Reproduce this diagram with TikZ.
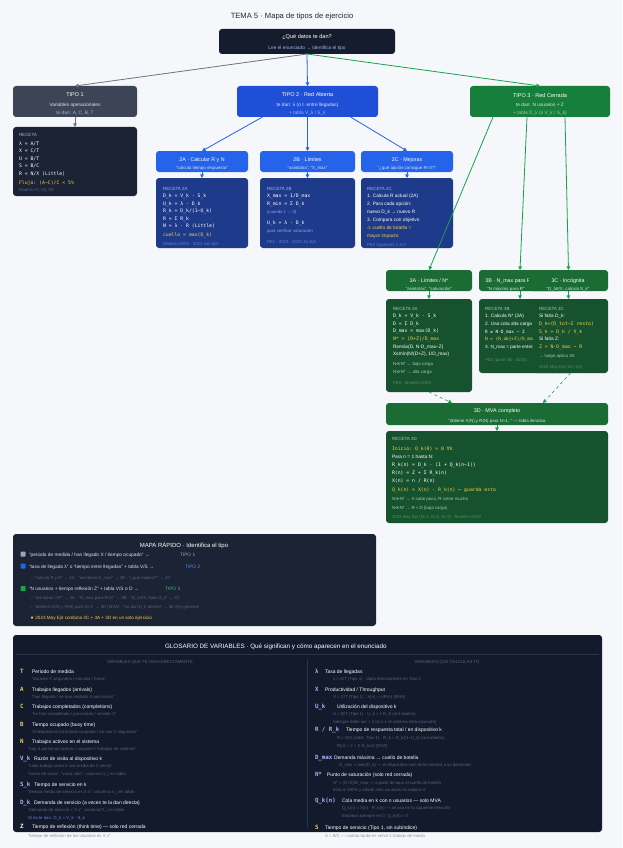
\documentclass[tikz,border=0pt]{standalone}
\usepackage{fontspec}
\setmainfont{Liberation Sans}
\setmonofont{DejaVu Sans Mono}
\newfontfamily\djv{DejaVu Sans}
\usetikzlibrary{arrows.meta,calc}
\definecolor{bgc}{HTML}{F5F7FA}
\definecolor{titc}{HTML}{1F2937}
\definecolor{navyA}{HTML}{151C2E}
\definecolor{navyB}{HTML}{1B2334}
\definecolor{navyG}{HTML}{121A2B}
\definecolor{t1c}{HTML}{3D4455}
\definecolor{t2c}{HTML}{1F4FD6}
\definecolor{h2c}{HTML}{2563EB}
\definecolor{r2c}{HTML}{1E3A8A}
\definecolor{t3c}{HTML}{177F3C}
\definecolor{h3c}{HTML}{1A6B34}
\definecolor{r3c}{HTML}{17522E}
\definecolor{ylw}{HTML}{F2CF4A}
\definecolor{lblue}{HTML}{9DB8F0}
\definecolor{fadeN}{HTML}{56657F}
\definecolor{fadeB}{HTML}{6580CC}
\definecolor{fadeL}{HTML}{8FA6E0}
\definecolor{fadeG}{HTML}{4F8F62}
\definecolor{lgreen}{HTML}{A7C9B2}
\definecolor{lav}{HTML}{A5B4FC}
\definecolor{soft}{HTML}{DCE3EE}
\definecolor{arrG}{HTML}{6B7280}
\definecolor{arrB}{HTML}{2563EB}
\definecolor{arrV}{HTML}{16A34A}
\definecolor{lab1}{HTML}{9AA5BA}
\definecolor{lab2}{HTML}{4F8DF7}
\definecolor{lab3}{HTML}{34C46A}
\definecolor{sepc}{HTML}{2A3449}
\definecolor{outg}{HTML}{8A94A6}
\newcommand\fs[1]{\fontsize{#1}{#1}\selectfont}
\newcommand\symf{\fs{5.8}\ttfamily\bfseries}
\newcounter{tn}
\newcommand\tx[4][]{\stepcounter{tn}\node[tx,#1] (L\thetn) at (#2,#3) {#4};}
\newcommand\bx[6]{\node[bxs, fill=#6, minimum width=#4pt-#2pt, minimum height=#5pt-#3pt] (#1) at ({(#2+#4)/2},{(#3+#5)/2}) {};}
\tikzset{
  bxs/.style={rounded corners=3pt, inner sep=0pt, outer sep=0pt, draw=none},
  tx/.style={anchor=base west, inner sep=0pt, outer sep=0pt, text=white, font=\fs{4.8}},
  arr/.style={-{Triangle[length=3.6pt,width=3.6pt]}, line width=0.8pt},
}
\begin{document}
\begin{tikzpicture}[x=1pt,y=-1pt]
\fill[bgc] (0,0) rectangle (622,848);
\useasboundingbox (0,0) rectangle (622,848);
\tx[anchor=base, text=titc, font=\fs{7.6}]{292}{18.5}{TEMA 5 · Mapa de tipos de ejercicio}

% question box
\bx{q}{219}{29}{395}{54}{navyA}
\tx[anchor=base, font=\fs{5.6}]{307}{39}{¿Qué datos te dan?}
\tx[anchor=base, text=lblue]{307}{49.5}{Lee el enunciado → identifica el tipo}

% TIPO 1
\bx{tipo1}{13}{86}{137}{117}{t1c}
\tx[anchor=base, font=\fs{5.5}]{75}{97}{TIPO 1}
\tx[anchor=base, text=soft]{75}{107}{Variables operacionales}
\tx[anchor=base, text=lblue]{75}{115}{te dan: A, C, B, T}
\bx{r1}{13}{127}{137}{196}{navyB}
\tx[text=lblue, font=\fs{4.5}]{19}{136}{RECETA}
\tx[font=\fs{4.8}\ttfamily]{19}{145}{λ = A/T}
\tx[font=\fs{4.8}\ttfamily]{19}{152.5}{X = C/T}
\tx[font=\fs{4.8}\ttfamily]{19}{160}{U = B/T}
\tx[font=\fs{4.8}\ttfamily]{19}{167.5}{S = B/C}
\tx[font=\fs{4.8}\ttfamily]{19}{175}{R = N/X (Little)}
\tx[text=ylw, font=\fs{4.8}\ttfamily]{19}{184.5}{Flujo: (A−C)/C < 5\%}
\tx[text=fadeN, font=\fs{4.3}]{19}{191.5}{Modelo 07, 02, 09}

% TIPO 2
\bx{tipo2}{237}{86}{378}{117}{t2c}
\tx[anchor=base, font=\fs{5.5}]{307.5}{97}{TIPO 2 · Red Abierta}
\tx[anchor=base, text=soft]{307.5}{107}{te dan: λ (o t. entre llegadas)}
\tx[anchor=base, text=lblue]{307.5}{115}{+ tabla V\_k / S\_k}

\bx{h2a}{156}{151}{248}{172}{h2c}
\tx[anchor=base, font=\fs{5.3}]{202}{161}{2A · Calcular R y N}
\tx[anchor=base, text=soft, font=\fs{4.4}]{202}{169.5}{“calcula tiempo respuesta”}
\bx{r2a}{156}{178}{248}{248}{r2c}
\tx[text=lblue, font=\fs{4.5}]{163}{190}{RECETA 2A}
\tx[font=\fs{4.8}\ttfamily]{163}{197.5}{D\_k = V\_k · S\_k}
\tx[font=\fs{4.8}\ttfamily]{163}{205}{U\_k = λ · D\_k}
\tx[font=\fs{4.8}\ttfamily]{163}{212.5}{R\_k = D\_k/(1−U\_k)}
\tx[font=\fs{4.8}\ttfamily]{163}{220}{R = Σ R\_k}
\tx[font=\fs{4.8}\ttfamily]{163}{227.5}{N = λ · R (Little)}
\tx[text=ylw, font=\fs{4.8}\ttfamily]{163}{236}{cuello = max(D\_k)}
\tx[text=fadeB, font=\fs{4.3}]{163}{245.5}{Modelo 02/03 · 2023 Jun Ej4}

\bx{h2b}{260}{151}{355}{172}{h2c}
\tx[anchor=base, font=\fs{5.3}]{307.5}{161}{2B · Límites}
\tx[anchor=base, text=soft, font=\fs{4.4}]{307.5}{169.5}{“asintotas”, “X\_max”}
\bx{r2b}{260}{178}{355}{248}{r2c}
\tx[text=lblue, font=\fs{4.5}]{267}{190}{RECETA 2B}
\tx[font=\fs{4.8}\ttfamily]{267}{197.5}{X\_max = 1/D\_max}
\tx[font=\fs{4.8}\ttfamily]{267}{205}{R\_min = Σ D\_k}
\tx[text=fadeL, font=\fs{4.3}]{267}{213}{(cuando λ → 0)}
\tx[font=\fs{4.8}\ttfamily]{267}{224}{U\_k = λ · D\_k}
\tx[text=fadeL, font=\fs{4.3}]{267}{232}{para verificar saturación}
\tx[text=fadeB, font=\fs{4.3}]{267}{243}{PE2 · 2023 · 2020 Jul Ej5}

\bx{h2cc}{361}{151}{453}{172}{h2c}
\tx[anchor=base, font=\fs{5.3}]{407}{161}{2C · Mejoras}
\tx[anchor=base, text=soft, font=\fs{4.4}]{407}{169.5}{“¿qué opción consigue R<X?”}
\bx{r2cc}{361}{178}{453}{248}{r2c}
\tx[text=lblue, font=\fs{4.5}]{367}{190}{RECETA 2C}
\tx{367}{197.5}{1. Calcula R actual (2A)}
\tx{367}{205.5}{2. Para cada opción:}
\tx{367}{213.5}{nuevo D\_k → nuevo R}
\tx{367}{221.5}{3. Compara con objetivo}
\tx[text=ylw]{367}{229.5}{{\djv ⚠} cuello de botella =}
\tx[text=ylw]{367}{237.5}{mayor impacto}
\tx[text=fadeB, font=\fs{4.3}]{367}{246}{PE3 Opciones 1-2-3}

% TIPO 3
\bx{tipo3}{470}{86}{610}{117}{t3c}
\tx[anchor=base, font=\fs{5.5}]{540}{97.5}{TIPO 3 · Red Cerrada}
\tx[anchor=base, text=soft]{540}{107}{te dan: N usuarios + Z}
\tx[anchor=base, text=lgreen]{540}{115}{+ tabla D\_k (o V\_k / S\_k)}

\bx{h3a}{386}{270}{472}{291}{h3c}
\tx[anchor=base, font=\fs{5.3}]{429}{282}{3A · Límites / N*}
\tx[anchor=base, text=soft, font=\fs{4.4}]{429}{290}{“asintotas”, “saturación”}
\bx{r3a}{386}{299}{472}{392}{r3c}
\tx[text=lgreen, font=\fs{4.5}]{393}{310}{RECETA 3A}
\tx[font=\fs{4.8}\ttfamily]{393}{317.5}{D\_k = V\_k · S\_k}
\tx[font=\fs{4.8}\ttfamily]{393}{325}{D = Σ D\_k}
\tx[font=\fs{4.8}\ttfamily]{393}{332.5}{D\_max = max(D\_k)}
\tx[text=ylw, font=\fs{4.8}\ttfamily]{393}{340}{N* = (D+Z)/D\_max}
\tx{393}{348}{R≥máx(D, N·D\_max−Z)}
\tx{393}{355.5}{X≤mín(N/(D+Z), 1/D\_max)}
\tx[text=lgreen, font=\fs{4.4}]{393}{365.5}{N{\djv ≪}N* → baja carga}
\tx[text=lgreen, font=\fs{4.4}]{393}{373.5}{N{\djv ≫}N* → alta carga}
\tx[text=fadeG, font=\fs{4.3}]{393}{384.5}{PE3 · Modelo 02/03}

\bx{h3b}{479}{270}{561}{291}{h3c}
\tx[anchor=base, font=\fs{5.3}]{508}{282}{3B · N\_max para R}
\tx[anchor=base, text=soft, font=\fs{4.4}]{506}{290}{“N máximo para R”}
\bx{h3cc}{529}{270}{608}{291}{h3c}
\tx[anchor=base, font=\fs{5.3}]{568}{282}{3C · Incógnita}
\tx[anchor=base, text=soft, font=\fs{4.4}]{568}{290}{“D\_tot/X, calcula S\_k”}

\bx{r3b}{479}{299}{572}{373}{r3c}
\tx[text=lgreen, font=\fs{4.5}]{485}{310}{RECETA 3B}
\tx{485}{317.5}{1. Calcula N* (3A)}
\tx{485}{325}{2. Usa cota alta carga}
\tx[font=\fs{4.4}\ttfamily]{485}{333}{R ≥ N·D\_max − Z}
\tx[text=ylw, font=\fs{4.4}\ttfamily]{485}{340.5}{N = (R\_obj+Z)/D\_max}
\tx[font=\fs{4.6}]{485}{348}{3. N\_max = parte entera}
\tx[text=fadeG, font=\fs{4.3}]{485}{361}{PE3 (parte 3B · 2020)}
\bx{r3cc}{533}{299}{608}{373}{r3c}
\tx[text=lgreen, font=\fs{4.5}]{539}{310}{RECETA 3C}
\tx{539}{317.5}{Si falta D\_k:}
\tx[text=ylw, font=\fs{4.8}\ttfamily]{539}{325}{D\_k=(D\_tot−Σ resto)}
\tx[text=ylw, font=\fs{4.8}\ttfamily]{539}{333}{S\_k = D\_k / V\_k}
\tx{539}{340.5}{Si falta Z:}
\tx[text=ylw, font=\fs{4.8}\ttfamily]{539}{348}{Z = N·D\_max − R}
\tx[text=lgreen, font=\fs{4.4}]{539}{357}{→ luego aplica 3A}
\tx[text=fadeG, font=\fs{4.3}]{539}{368}{2023 May Ej4 (3C+3A)}

\bx{h3d}{386}{403}{608}{425}{h3c}
\tx[anchor=base, font=\fs{5.4}]{497}{412.5}{3D · MVA completo}
\tx[anchor=base, text=soft, font=\fs{4.4}]{497}{422}{“obtiene X(N) y R(N) para N=1..” — tabla iterativa}
\bx{r3d}{386}{431}{608}{523}{r3c}
\tx[text=lgreen, font=\fs{4.5}]{392}{440.5}{RECETA 3D}
\tx[text=ylw, font=\fs{4.8}\ttfamily]{392}{450}{Inicio: Q\_k(0) = 0 ∀k}
\tx{392}{458}{Para n = 1 hasta N:}
\tx[font=\fs{4.8}\ttfamily]{392}{466.5}{R\_k(n) = D\_k · (1 + Q\_k(n−1))}
\tx[font=\fs{4.8}\ttfamily]{392}{474.5}{R(n) = Z + Σ R\_k(n)}
\tx[font=\fs{4.8}\ttfamily]{392}{482.5}{X(n) = n / R(n)}
\tx[text=ylw, font=\fs{4.8}\ttfamily]{392}{491.5}{Q\_k(n) = X(n) · R\_k(n) ← guarda esto}
\tx[text=lgreen, font=\fs{4.4}]{392}{500.5}{N{\djv ≫}N* → X sube poco, R crece mucho}
\tx[text=lgreen, font=\fs{4.4}]{392}{509.5}{N{\djv ≪}N* → R ≈ D (baja carga)}
\tx[text=fadeG, font=\fs{4.3}]{392}{518.5}{2023 May Ej4 (N=1, N=2, N=3) · Modelo 02/03}

% connectors
\draw[arr, arrG] (q.south) -- (tipo1.north);
\draw[arr, arrB] (q.south) -- (tipo2.north);
\draw[arr, arrV] (q.south) -- (tipo3.north);
\draw[arr, arrG] (tipo1.south) -- (r1.north);
\draw[arr, arrB] ($(tipo2.south)+(-45,0)$) -- (h2a.north);
\draw[arr, arrB] (tipo2.south) -- (h2b.north);
\draw[arr, arrB] ($(tipo2.south)+(43,0)$) -- (h2cc.north);
\draw[arr, arrB] (h2a.south) -- (r2a.north);
\draw[arr, arrB] (h2b.south) -- (r2b.north);
\draw[arr, arrB] (h2cc.south) -- (r2cc.north);
\draw[arr, arrV] ($(tipo3.south)+(-47,0)$) -- (h3a.north);
\draw[arr, arrV] ($(tipo3.south)+(-13,0)$) -- (h3b.north);
\draw[arr, arrV] ($(tipo3.south)+(25,0)$) -- (h3cc.north);
\draw[arr, arrV] (h3a.south) -- (r3a.north);
\draw[arr, arrV] (h3b.south) -- (h3b.south |- r3b.north);
\draw[arr, arrV] (h3cc.south) -- (h3cc.south |- r3cc.north);
\draw[arr, arrV, dashed, line width=0.6pt] (r3a.south) -- ($(h3d.north)+(-45,0)$);
\draw[arr, arrV, dashed, line width=0.6pt] (r3cc.south) -- ($(h3d.north)+(46,0)$);
\draw[arr, arrV] (h3d.south) -- (r3d.north);

% quick map
\bx{map}{13}{534}{376}{626}{navyB}
\tx[anchor=base, font=\fs{6}]{184}{547}{MAPA RÁPIDO · Identifica el tipo}
\node[bxs, rounded corners=0.6pt, fill=lab1, minimum size=5pt] (sqa) at (23,554) {};
\tx[text=soft]{29}{556}{“periodo de medida / han llegado X / tiempo ocupado” →}
\tx[text=lab1]{180}{556}{TIPO 1}
\node[bxs, rounded corners=0.6pt, fill=arrB, minimum size=5pt] (sqb) at (23,566) {};
\tx[text=soft]{29}{568}{“tasa de llegada λ” o “tiempo entre llegadas” + tabla V/S →}
\tx[text=lab2]{185}{568}{TIPO 2}
\tx[text=fadeN, font=\fs{4.3}]{29}{579}{→ “calcula R y N” → 2A · “asintotas/X\_max” → 2B · “¿qué mejora?” → 2C}
\node[bxs, rounded corners=0.6pt, fill=arrV, minimum size=5pt] (sqc) at (23,588.5) {};
\tx[text=soft]{29}{590.5}{“N usuarios + tiempo reflexión Z” + tabla V/S o D →}
\tx[text=lab3]{165}{590.5}{TIPO 3}
\tx[text=fadeN, font=\fs{4.3}]{29}{599.5}{→ “asintotas / N*” → 3A · “N\_max para R<X” → 3B · “D\_tot/X, halla S\_k” → 3C}
\tx[text=fadeN, font=\fs{4.3}]{29}{608}{→ “obtiene X(N) y R(N) para N=1” → 3D (MVA) · “no dan D\_k directo” → 3E (ley general)}
\tx[text=ylw, font=\fs{4.6}]{30}{619}{{\djv ★} 2023 May Ej4 combina 3C + 3A + 3D en un solo ejercicio}

% glossary
\bx{glo}{13}{635}{602}{832}{navyG}
\tx[font=\fs{6.3}]{165}{648.2}{GLOSARIO DE VARIABLES · Qué significan y cómo aparecen en el enunciado}
\draw[sepc, line width=0.5pt] ($(glo.north west)+(3,19)$) -- ($(glo.north east)+(-3,19)$);
\draw[sepc, line width=0.5pt] ($(glo.north)+(0,24)$) -- ($(glo.south)+(0,-4)$);
\tx[anchor=base, text=fadeN, font=\fs{4.3}]{150}{663.5}{VARIABLES QUE TE DAN DIRECTAMENTE}
\tx[anchor=base, text=fadeN, font=\fs{4.3}]{447}{663.5}{VARIABLES QUE CALCULAS TÚ}

\tx[text=ylw, font=\symf]{20}{673.8}{T}
\tx[font=\fs{5}]{32}{673.8}{Periodo de medida}
\tx[text=fadeN, font=\fs{4.3}]{32}{680.5}{“durante X segundos / minutos / horas”}
\tx[text=ylw, font=\symf]{20}{691.3}{A}
\tx[font=\fs{5}]{32}{691.3}{Trabajos llegados (arrivals)}
\tx[text=fadeN, font=\fs{4.3}]{32}{698}{“han llegado / se han recibido X peticiones”}
\tx[text=ylw, font=\symf]{20}{708.8}{C}
\tx[font=\fs{5}]{32}{708.8}{Trabajos completados (completions)}
\tx[text=fadeN, font=\fs{4.3}]{32}{715.5}{“se han completado / procesado / servido X”}
\tx[text=ylw, font=\symf]{20}{726.3}{B}
\tx[font=\fs{5}]{32}{726.3}{Tiempo ocupado (busy time)}
\tx[text=fadeN, font=\fs{4.3}]{32}{733}{“el dispositivo ha estado ocupado / en uso X segundos”}
\tx[text=ylw, font=\symf]{20}{743.8}{N}
\tx[font=\fs{5}]{32}{743.8}{Trabajos activos en el sistema}
\tx[text=fadeN, font=\fs{4.3}]{28}{750.5}{“hay X personas activas / usuarios / trabajos en sistema”}
\tx[text=lav, font=\symf]{20}{760.8}{V\_k}
\tx[font=\fs{5}]{34}{760.8}{Razón de visita al dispositivo k}
\tx[text=fadeN, font=\fs{4.3}]{28}{767.5}{“cada trabajo visita k una media de X veces”}
\tx[text=fadeN, font=\fs{4.3}]{28}{775.5}{“razón de visita”, “visita ratio”, columna V\_i en tabla}
\tx[text=lav, font=\symf]{20}{786.8}{S\_k}
\tx[font=\fs{5}]{34}{786.8}{Tiempo de servicio en k}
\tx[text=fadeN, font=\fs{4.3}]{28}{793.5}{“tiempo medio de servicio es X s”, columna S\_i en tabla}
\tx[text=lav, font=\symf]{20}{804.3}{D\_k}
\tx[font=\fs{5}]{34}{804.3}{Demanda de servicio (a veces te la dan directa)}
\tx[text=fadeN, font=\fs{4.3}]{28}{811.5}{“demanda de servicio = X s”, columna D\_i en tabla}
\tx[text=fadeB, font=\fs{4.3}]{28}{819}{Si no te dan: D\_k = V\_k · S\_k}
\tx[font=\symf]{20}{828.8}{Z}
\tx[font=\fs{5}]{32}{828.8}{Tiempo de reflexión (think time) — solo red cerrada}
\tx[text=outg, font=\fs{4.3}]{28}{837.5}{“tiempo de reflexión de los usuarios es X s”}

\tx[text=lav, font=\symf]{315}{673.8}{λ}
\tx[font=\fs{5}]{325}{673.8}{Tasa de llegadas}
\tx[text=fadeN, font=\fs{4.3}]{333}{680.5}{λ = A/T (Tipo 1) · dada directamente en Tipo 2}
\tx[text=lav, font=\symf]{315}{691.3}{X}
\tx[font=\fs{5}]{325}{691.3}{Productividad / Throughput}
\tx[text=fadeN, font=\fs{4.3}]{333}{698}{X = C/T (Tipo 1) · X(n) = n/R(n) (MVA)}
\tx[text=lav, font=\symf]{315}{708.8}{U\_k}
\tx[font=\fs{5}]{337}{708.8}{Utilización del dispositivo k}
\tx[text=fadeN, font=\fs{4.3}]{333}{715.5}{U = B/T (Tipo 1) · U\_k = λ·D\_k (red abierta)}
\tx[text=fadeN, font=\fs{4.3}]{333}{723}{Siempre debe ser < 1 (si ≥ 1 el sistema está saturado)}
\tx[text=lav, font=\symf]{315}{731.8}{R / R\_k}
\tx[font=\fs{5}]{346}{731.8}{Tiempo de respuesta total / en dispositivo k}
\tx[text=fadeN, font=\fs{4.3}]{337}{739.5}{R = N/X (Little, Tipo 1) · R\_k = D\_k/(1−U\_k) (red abierta)}
\tx[text=fadeN, font=\fs{4.3}]{337}{747}{R(n) = Z + Σ R\_k(n) (MVA)}
\tx[text=lav, font=\symf]{315}{759.3}{D\_max}
\tx[font=\fs{5}]{334}{759.3}{Demanda máxima → cuello de botella}
\tx[text=fadeN, font=\fs{4.3}]{339}{766.5}{D\_max = max(D\_k) — el dispositivo más lento relativo a su demanda}
\tx[text=lav, font=\symf]{315}{776.3}{N*}
\tx[font=\fs{5}]{327}{776.3}{Punto de saturación (solo red cerrada)}
\tx[text=fadeN, font=\fs{4.3}]{333}{784}{N* = (D+Z)/D\_max — a partir de aquí el cuello de botella}
\tx[text=fadeN, font=\fs{4.3}]{333}{791.5}{está al 100\% y añadir más usuarios no mejora X}
\tx[text=lav, font=\symf]{315}{802.3}{Q\_k(n)}
\tx[font=\fs{5}]{342}{802.3}{Cola media en k con n usuarios — solo MVA}
\tx[text=fadeN, font=\fs{4.3}]{342}{809.5}{Q\_k(n) = X(n) · R\_k(n) — se usa en la siguiente iteración}
\tx[text=fadeN, font=\fs{4.3}]{342}{817.5}{Empieza siempre en 0: Q\_k(0) = 0}
\tx[text=ylw, font=\symf]{315}{829.8}{S}
\tx[font=\fs{5}]{325}{829.8}{Tiempo de servicio (Tipo 1, sin subíndice)}
\tx[text=outg, font=\fs{4.3}]{325}{837.5}{S = B/C — cuánto tarda en servir 1 trabajo de media}
\end{tikzpicture}
\end{document}
